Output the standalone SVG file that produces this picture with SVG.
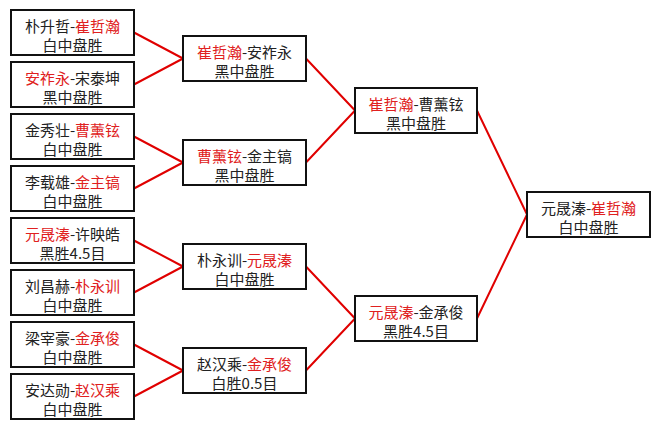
<svg xmlns="http://www.w3.org/2000/svg" width="660" height="429" viewBox="0 0 660 429">
<style>
.box{fill:#fff;stroke:#111;stroke-width:2}
.t{font-family:"Noto Sans CJK SC","Noto Sans CJK TC",sans-serif;font-size:15px;fill:#222;text-anchor:middle;dominant-baseline:central}
.r{fill:#e02020}
.c{stroke:#e00000;stroke-width:2;fill:none}
</style>
<rect width="660" height="429" fill="#fff"/>
<g id="connectors">
<path class="c" d="M134 32.5L183 58.5M134 84.5L183 58.5"/>
<path class="c" d="M134 136.5L183 162.5M134 188.5L183 162.5"/>
<path class="c" d="M134 240.5L183 266.5M134 292.5L183 266.5"/>
<path class="c" d="M134 344.5L183 370.5M134 396.5L183 370.5"/>
<path class="c" d="M306 58.5L355 110.5M306 162.5L355 110.5"/>
<path class="c" d="M306 266.5L355 318.5M306 370.5L355 318.5"/>
<path class="c" d="M477 110.5L527 214.5M477 318.5L527 214.5"/>
</g>
<g id="n1"><rect class="box" x="11" y="10" width="123" height="45"/><text class="t" x="72.5" y="25">朴升哲-<tspan class="r">崔哲瀚</tspan></text><text class="t" x="72.5" y="44.5">白中盘胜</text></g>
<g id="n2"><rect class="box" x="11" y="62" width="123" height="45"/><text class="t" x="72.5" y="77"><tspan class="r">安祚永</tspan>-宋泰坤</text><text class="t" x="72.5" y="96.5">黑中盘胜</text></g>
<g id="n3"><rect class="box" x="11" y="114" width="123" height="45"/><text class="t" x="72.5" y="129">金秀壮-<tspan class="r">曹薰铉</tspan></text><text class="t" x="72.5" y="148.5">白中盘胜</text></g>
<g id="n4"><rect class="box" x="11" y="166" width="123" height="45"/><text class="t" x="72.5" y="181">李载雄-<tspan class="r">金主镐</tspan></text><text class="t" x="72.5" y="200.5">白中盘胜</text></g>
<g id="n5"><rect class="box" x="11" y="218" width="123" height="45"/><text class="t" x="72.5" y="233"><tspan class="r">元晟溱</tspan>-许映皓</text><text class="t" x="72.5" y="252.5">黑胜4.5目</text></g>
<g id="n6"><rect class="box" x="11" y="270" width="123" height="45"/><text class="t" x="72.5" y="285">刘昌赫-<tspan class="r">朴永训</tspan></text><text class="t" x="72.5" y="304.5">白中盘胜</text></g>
<g id="n7"><rect class="box" x="11" y="322" width="123" height="45"/><text class="t" x="72.5" y="337">梁宰豪-<tspan class="r">金承俊</tspan></text><text class="t" x="72.5" y="356.5">白中盘胜</text></g>
<g id="n8"><rect class="box" x="11" y="374" width="123" height="45"/><text class="t" x="72.5" y="389">安达勋-<tspan class="r">赵汉乘</tspan></text><text class="t" x="72.5" y="408.5">白中盘胜</text></g>
<g id="qa"><rect class="box" x="183" y="36" width="123" height="45"/><text class="t" x="244.5" y="51"><tspan class="r">崔哲瀚</tspan>-安祚永</text><text class="t" x="244.5" y="70.5">黑中盘胜</text></g>
<g id="qb"><rect class="box" x="183" y="140" width="123" height="45"/><text class="t" x="244.5" y="155"><tspan class="r">曹薰铉</tspan>-金主镐</text><text class="t" x="244.5" y="174.5">黑中盘胜</text></g>
<g id="qc"><rect class="box" x="183" y="244" width="123" height="45"/><text class="t" x="244.5" y="259">朴永训-<tspan class="r">元晟溱</tspan></text><text class="t" x="244.5" y="278.5">白中盘胜</text></g>
<g id="qd"><rect class="box" x="183" y="348" width="123" height="45"/><text class="t" x="244.5" y="363">赵汉乘-<tspan class="r">金承俊</tspan></text><text class="t" x="244.5" y="382.5">白胜0.5目</text></g>
<g id="sa"><rect class="box" x="355" y="88" width="122" height="45"/><text class="t" x="416" y="103"><tspan class="r">崔哲瀚</tspan>-曹薰铉</text><text class="t" x="416" y="122.5">黑中盘胜</text></g>
<g id="sb"><rect class="box" x="355" y="296" width="122" height="45"/><text class="t" x="416" y="311"><tspan class="r">元晟溱</tspan>-金承俊</text><text class="t" x="416" y="330.5">黑胜4.5目</text></g>
<g id="final"><rect class="box" x="527" y="192" width="123" height="45"/><text class="t" x="588.5" y="207">元晟溱-<tspan class="r">崔哲瀚</tspan></text><text class="t" x="588.5" y="226.5">白中盘胜</text></g>
</svg>
